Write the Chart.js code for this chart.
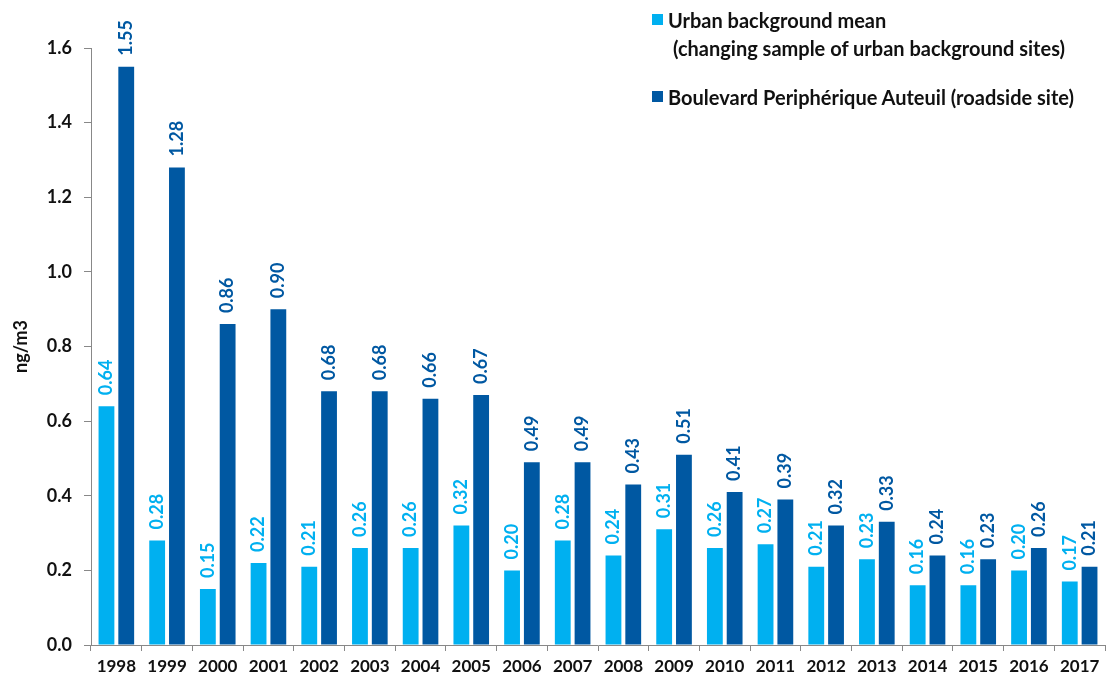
<!DOCTYPE html>
<html>
<head>
<meta charset="utf-8">
<script src="https://cdn.jsdelivr.net/npm/chart.js@4"></script>
<style>
  html, body { margin: 0; padding: 0; background: #fff; }
  #wrap { position: relative; width: 1106px; height: 678px; }
  #legend { position: absolute; left: 652px; top: 6px; font: bold 20px Lato, sans-serif; color: #111; line-height: 28px; white-space: nowrap; }
  #legend .row { position: relative; padding-left: 16px; }
  #legend .sw { position: absolute; left: 0; top: 8px; width: 11px; height: 11px; }
</style>
</head>
<body>
<div id="wrap">
  <canvas id="chart" width="1106" height="678"></canvas>
  <div id="legend">
    <div class="row"><span class="sw" style="background:#00b0f0"></span>Urban background mean</div>
    <div class="row" style="padding-left:21px">(changing sample of urban background sites)</div>
    <div class="row" style="margin-top:21px"><span class="sw" style="background:#0058a2"></span>Boulevard Periphérique Auteuil (roadside site)</div>
  </div>
</div>
<script>
const years = ["1998", "1999", "2000", "2001", "2002", "2003", "2004", "2005", "2006", "2007",
  "2008", "2009", "2010", "2011", "2012", "2013", "2014", "2015", "2016", "2017"];
const urbanBackground = [0.64, 0.28, 0.15, 0.22, 0.21, 0.26, 0.26, 0.32, 0.20, 0.28,
  0.24, 0.31, 0.26, 0.27, 0.21, 0.23, 0.16, 0.16, 0.20, 0.17];
const auteuil = [1.55, 1.28, 0.86, 0.90, 0.68, 0.68, 0.66, 0.67, 0.49, 0.49,
  0.43, 0.51, 0.41, 0.39, 0.32, 0.33, 0.24, 0.23, 0.26, 0.21];
const yTicks = [0.0, 0.2, 0.4, 0.6, 0.8, 1.0, 1.2, 1.4, 1.6];

const lightBlue = "#00b0f0";
const darkBlue = "#0058a2";

// rotated value labels above each bar
const barLabels = {
  id: "barLabels",
  afterDatasetsDraw(chart) {
    const ctx = chart.ctx;
    chart.data.datasets.forEach((ds, i) => {
      chart.getDatasetMeta(i).data.forEach((bar, j) => {
        ctx.save();
        ctx.translate(bar.x, bar.y - 11);
        ctx.rotate(-Math.PI / 2);
        ctx.font = "bold 18px Lato, sans-serif";
        ctx.fillStyle = ds.backgroundColor;
        ctx.textAlign = "left";
        ctx.textBaseline = "middle";
        ctx.fillText(ds.data[j].toFixed(2), 0, 0);
        ctx.restore();
      });
    });
  }
};

new Chart(document.getElementById("chart"), {
  type: "bar",
  data: {
    labels: years,
    datasets: [
      { label: "Urban background mean", data: urbanBackground, backgroundColor: lightBlue,
        barPercentage: 0.8, categoryPercentage: 0.78 },
      { label: "Boulevard Periphérique Auteuil (roadside site)", data: auteuil, backgroundColor: darkBlue,
        barPercentage: 0.8, categoryPercentage: 0.78 }
    ]
  },
  options: {
    responsive: false,
    animation: false,
    layout: { padding: { top: 48, right: 1, left: 0, bottom: 0 } },
    plugins: { legend: { display: false }, tooltip: { enabled: false } },
    scales: {
      x: {
        afterFit: s => { s.height = 33; },
        border: { color: "#888" },
        grid: { display: true, drawOnChartArea: false, offset: true, tickLength: 6, color: "#888" },
        ticks: { color: "#111", font: { family: "Lato", weight: "bold", size: 17 }, padding: 5 }
      },
      y: {
        min: 0, max: 1.6,
        afterFit: s => { s.width = 91; },
        afterBuildTicks: s => { s.ticks = yTicks.map(v => ({ value: v })); },
        border: { color: "#888" },
        grid: { display: true, drawOnChartArea: false, tickLength: 7, color: "#888" },
        ticks: { color: "#111", font: { family: "Lato", weight: "bold", size: 18 }, padding: 12,
          callback: v => v.toFixed(1) },
        title: { display: true, text: "ng/m3", color: "#111",
          font: { family: "Lato", weight: "bold", size: 18 }, padding: { top: 10, bottom: 0 } }
      }
    }
  },
  plugins: [barLabels]
});
</script>
</body>
</html>
